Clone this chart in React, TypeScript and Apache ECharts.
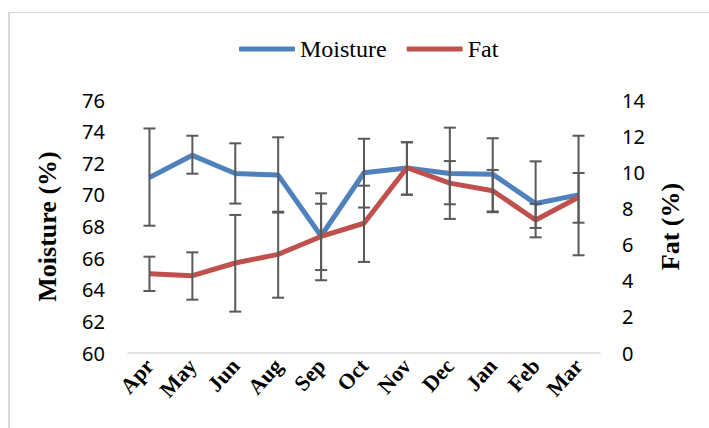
import React, { useEffect, useRef } from "react";
import * as echarts from "echarts";

const months = ["Apr", "May", "Jun", "Aug", "Sep", "Oct", "Nov", "Dec", "Jan", "Feb", "Mar"];
const moisture = [71.1, 72.5, 71.35, 71.25, 67.4, 71.4, 71.7, 71.35, 71.3, 69.45, 70.0];
const moistureHigh = [74.2, 73.74, 73.26, 73.64, 70.1, 73.55, 73.33, 74.25, 73.58, 72.12, 73.74];
const moistureLow = [68.05, 71.34, 69.45, 68.88, 64.6, 69.2, 70.01, 68.48, 68.95, 67.91, 66.18];
const fat = [4.39, 4.28, 4.98, 5.46, 6.45, 7.18, 10.25, 9.4, 8.98, 7.36, 8.62];
const fatHigh = [5.33, 5.57, 7.64, 7.82, 8.26, 9.26, 11.66, 10.62, 10.13, 8.25, 9.96];
const fatLow = [3.43, 2.95, 2.29, 3.06, 4.59, 5.04, 8.76, 8.23, 7.79, 6.4, 7.21];

const BLUE = "#4F81BD";
const RED = "#C0504D";
const ERR = "#595959";
const SERIF = "'Liberation Serif', 'Times New Roman', serif";
const SANS = "'Noto Sans', 'Liberation Sans', sans-serif";

function errorRender(params: any, api: any) {
  const i = api.value(0);
  const hi = api.coord([i, api.value(1)]);
  const lo = api.coord([i, api.value(2)]);
  const hw = 6;
  const style = { stroke: ERR, lineWidth: 2 };
  return {
    type: "group",
    children: [
      { type: "line", shape: { x1: hi[0], y1: hi[1], x2: lo[0], y2: lo[1] }, style },
      { type: "line", shape: { x1: hi[0] - hw, y1: hi[1], x2: hi[0] + hw, y2: hi[1] }, style },
      { type: "line", shape: { x1: lo[0] - hw, y1: lo[1], x2: lo[0] + hw, y2: lo[1] }, style },
    ],
  };
}

export default function App() {
  const ref = useRef<HTMLDivElement>(null);
  useEffect(() => {
    if (!ref.current) return;
    const chart = echarts.init(ref.current, null, { renderer: "svg" });
    const moistErr = months.map((_, i) => [i, moistureHigh[i], moistureLow[i]]);
    const fatErr = months.map((_, i) => [i, fatHigh[i], fatLow[i]]);
    chart.setOption({
      animation: false,
      backgroundColor: "#ffffff",
      graphic: [
        { type: "line", shape: { x1: 9, y1: 12, x2: 9, y2: 440 }, style: { stroke: "#D9D9D9", lineWidth: 2 } },
        { type: "line", shape: { x1: 8, y1: 12.5, x2: 720, y2: 12.5 }, style: { stroke: "#D9D9D9", lineWidth: 1 } },
      ],
      legend: {
        left: 239,
        top: 37,
        padding: 0,
        itemWidth: 56,
        itemHeight: 5,
        itemGap: 20,
        icon: "roundRect",
        textStyle: { fontFamily: SERIF, fontSize: 24, color: "#000" },
        data: ["Moisture", "Fat"],
      },
      grid: { left: 128, right: 109, top: 100, bottom: 75, containLabel: false },
      xAxis: {
        type: "category",
        data: months,
        boundaryGap: true,
        axisLine: { lineStyle: { color: "#D9D9D9", width: 1.5 } },
        axisTick: { show: false },
        axisLabel: {
          interval: 0,
          rotate: 48,
          margin: 9,
          fontFamily: SERIF,
          fontWeight: "bold",
          fontSize: 22,
          color: "#000",
        },
      },
      yAxis: [
        {
          type: "value",
          min: 60,
          max: 76,
          interval: 2,
          name: "Moisture (%)",
          nameLocation: "middle",
          nameGap: 68,
          nameRotate: 90,
          nameTextStyle: { fontFamily: SERIF, fontWeight: "bold", fontSize: 26, color: "#000" },
          axisLine: { show: false },
          axisTick: { show: false },
          splitLine: { show: false },
          axisLabel: { margin: 23, fontFamily: SANS, fontSize: 20, color: "#000" },
        },
        {
          type: "value",
          min: 0,
          max: 14,
          interval: 2,
          name: "Fat (%)",
          nameLocation: "middle",
          nameGap: 57,
          nameRotate: 90,
          nameTextStyle: { fontFamily: SERIF, fontWeight: "bold", fontSize: 26, color: "#000" },
          axisLine: { show: false },
          axisTick: { show: false },
          splitLine: { show: false },
          axisLabel: { margin: 22, fontFamily: SANS, fontSize: 20, color: "#000" },
        },
      ],
      series: [
        {
          name: "Moisture",
          type: "line",
          data: moisture,
          yAxisIndex: 0,
          symbol: "none",
          color: BLUE,
          lineStyle: { color: BLUE, width: 5 },
          z: 2,
        },
        {
          name: "Fat",
          type: "line",
          data: fat,
          yAxisIndex: 1,
          symbol: "none",
          color: RED,
          lineStyle: { color: RED, width: 5 },
          z: 2,
        },
        {
          name: "MoistureErr",
          type: "custom",
          yAxisIndex: 0,
          renderItem: errorRender,
          data: moistErr,
          encode: { x: 0, y: [1, 2] },
          z: 3,
          silent: true,
        },
        {
          name: "FatErr",
          type: "custom",
          yAxisIndex: 1,
          renderItem: errorRender,
          data: fatErr,
          encode: { x: 0, y: [1, 2] },
          z: 3,
          silent: true,
        },
      ],
    });
    return () => chart.dispose();
  }, []);
  return <div ref={ref} style={{ position: "fixed", left: 0, top: 0, width: 709, height: 428 }} />;
}
